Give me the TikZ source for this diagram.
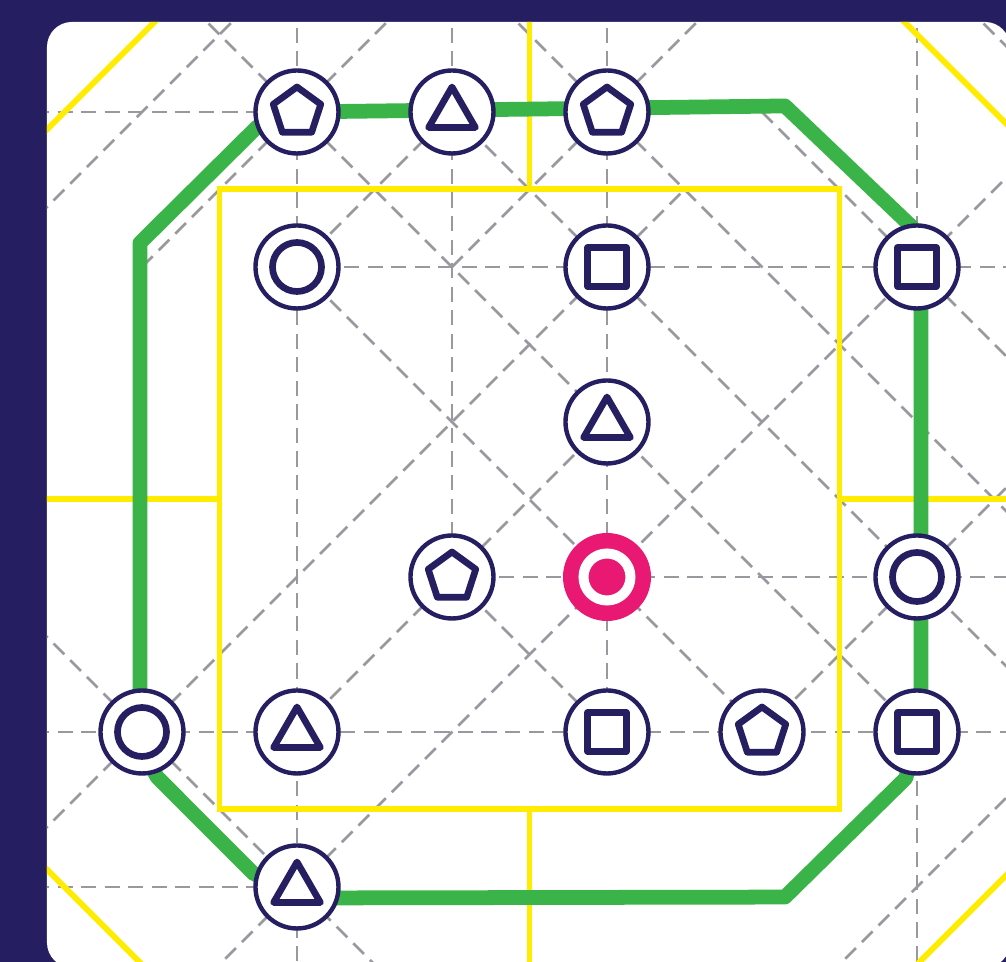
\documentclass[tikz,border=0pt]{standalone}
\usetikzlibrary{shapes.geometric}

\definecolor{navy}{RGB}{37,31,97}
\definecolor{ash}{RGB}{152,152,158}
\definecolor{lemon}{RGB}{255,236,0}
\definecolor{grass}{RGB}{58,180,72}
\definecolor{rose}{RGB}{232,24,115}

\begin{document}
\begin{tikzpicture}[
        x=1.55cm, y=-1.55cm,
        guide/.style={draw=ash, line width=0.75pt, dash pattern=on 4.3pt off 2.4pt},
        seam/.style={draw=lemon, line width=1.7pt},
        route/.style={draw=grass, line width=4.2pt, line join=round, line cap=round},
        spot/.style={circle, draw=navy, fill=white, line width=1.25pt, minimum size=0.83cm, inner sep=0pt},
        mark/.style={regular polygon, regular polygon sides=#1, draw=navy, fill=none, line width=1.9pt, line join=round, inner sep=0pt},
        pent/.style={spot, path picture={\node[mark=5, minimum size=0.5cm] at (path picture bounding box.center) {};}},
        tri/.style={spot, path picture={\node[mark=3, minimum size=0.54cm] at ([yshift=-0.02cm]path picture bounding box.center) {};}},
        box/.style={spot, path picture={\node[mark=4, minimum size=0.55cm] at (path picture bounding box.center) {};}},
        ring/.style={spot, path picture={\draw[navy, line width=1.9pt] (path picture bounding box.center) circle (0.245cm);}},
        home/.style={circle, fill=rose, minimum size=0.88cm, inner sep=0pt, path picture={\draw[white, line width=0.1cm] (path picture bounding box.center) circle (0.235cm);}}
    ]

% frame
    \useasboundingbox (-0.91613,-0.72258) rectangle (5.57419,5.48387);
    \fill[navy] (-0.91613,-0.72258) rectangle (5.57419,5.48387);
    \fill[white, rounded corners=0.25cm] (-0.613,-0.581) rectangle (5.6,5.52);

    \begin{scope}
    \clip[rounded corners=0.25cm] (-0.613,-0.581) rectangle (5.6,5.52);

% grid
    \draw[guide] (-1,0) -- (3,0);
    \draw[guide] (1,1) -- (6,1);
    \draw[guide] (2,3) -- (6,3);
    \draw[guide] (-1,4) -- (6,4);
    \draw[guide] (-1,5) -- (1,5);

    \draw[guide] (1,-1) -- (1,6);
    \draw[guide] (2,-1) -- (2,3);
    \draw[guide] (3,-1) -- (3,4);
    \draw[guide] (5,-1) -- (5,6);

    \draw[guide] (-1,1) -- (1,-1);
    \draw[guide] (0,1) -- (2,-1);
    \draw[guide] (1,1) -- (2,0);
    \draw[guide] (2,1) -- (4,-1);
    \draw[guide] (-1,5) -- (3.5,0.5);
    \draw[guide] (1,4) -- (3,2);
    \draw[guide] (0,6) -- (6,0);
    \draw[guide] (4,4) -- (6,2);
    \draw[guide] (4,6) -- (6,4);

    \draw[guide] (-1,3) -- (2,6);
    \draw[guide] (2,3) -- (3,4);
    \draw[guide] (1,1) -- (4,4);
    \draw[guide] (0,-1) -- (5,4);
    \draw[guide] (2,0) -- (6,4);
    \draw[guide] (2,-1) -- (6,3);
    \draw[guide] (4,0) -- (6,2);
    \draw[guide] (5,-1) -- (7,1);

% tiles
    \draw[seam] (0.5,0.5) rectangle (4.5,4.5);
    \draw[seam] (2.5,-1) -- (2.5,0.5);
    \draw[seam] (2.5,4.5) -- (2.5,6);
    \draw[seam] (-1,2.5) -- (0.5,2.5);
    \draw[seam] (4.5,2.5) -- (6,2.5);
    \draw[seam] (-1,0.5) -- (1,-1.5);
    \draw[seam] (4.5,-1) -- (7,1.5);
    \draw[seam] (-1,4.5) -- (1.5,7);
    \draw[seam] (4.5,6) -- (6.5,4);

% route
    \draw[route] (1,0) -- (4.148,-0.039) -- (4.974,0.748) -- (5.026,1.213)
        -- (5.026,3.794) -- (4.929,4.297) -- (4.148,5.065) -- (1.019,5.071)
        -- (0.716,4.910) -- (0.097,4.290) -- (-0.013,4.084) -- (-0.013,0.845)
        -- (0.742,0.097) -- cycle;
    \end{scope}

% spots
    \node[pent] (n10) at (1,0) {};
    \node[tri]  (n20) at (2,0) {};
    \node[pent] (n30) at (3,0) {};

    \node[ring] (n11) at (1,1) {};
    \node[box]  (n31) at (3,1) {};
    \node[box]  (n51) at (5,1) {};

    \node[tri]  (n32) at (3,2) {};

    \node[pent] (n23) at (2,3) {};
    \node[home] (n33) at (3,3) {};
    \node[ring] (n53) at (5,3) {};

    \node[ring] (n04) at (0,4) {};
    \node[tri]  (n14) at (1,4) {};
    \node[box]  (n34) at (3,4) {};
    \node[pent] (n44) at (4,4) {};
    \node[box]  (n54) at (5,4) {};

    \node[tri]  (n15) at (1,5) {};

\end{tikzpicture}
\end{document}
